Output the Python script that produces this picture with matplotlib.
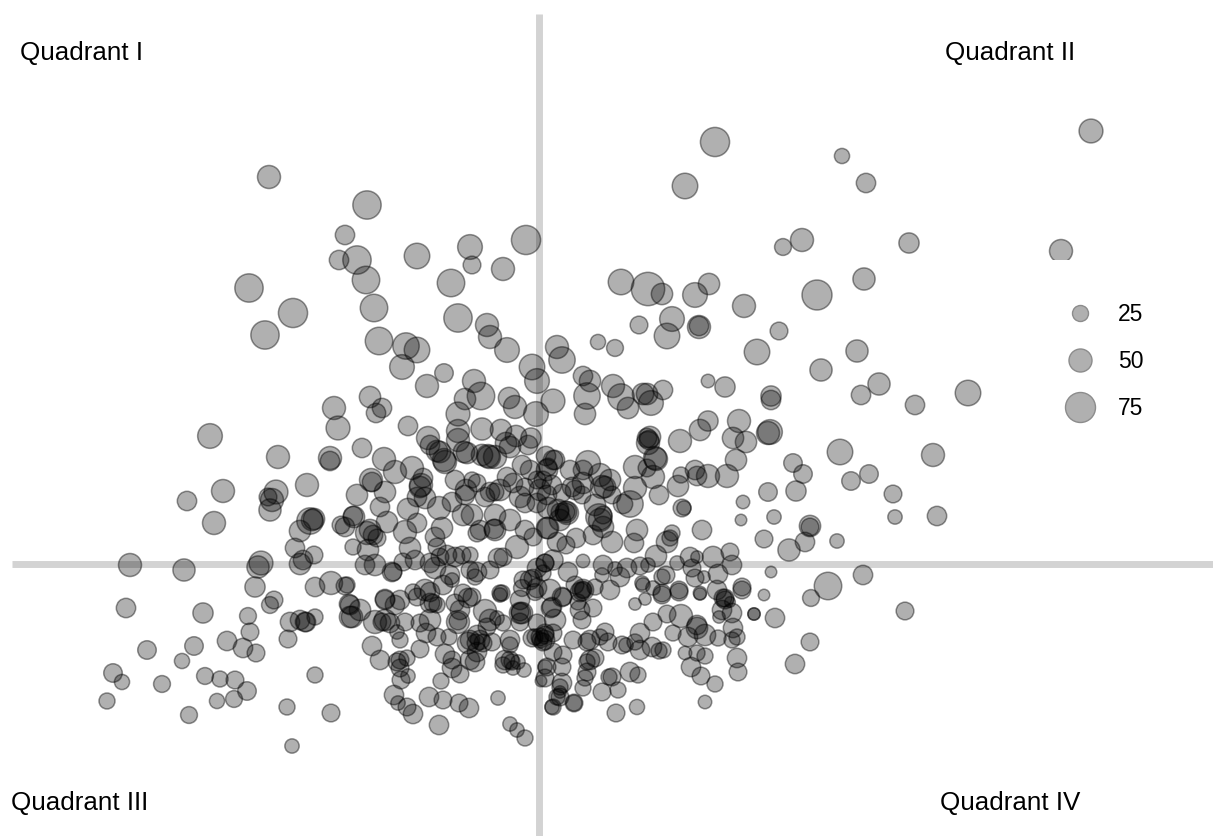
import numpy as np
import matplotlib
matplotlib.use("Agg")
import matplotlib.pyplot as plt
from matplotlib.lines import Line2D

plt.rcParams['font.family'] = ['Liberation Sans', 'DejaVu Sans']

x_upper_right = [715,1091,842,866,685,909,802,783,1061,864,817,709,695,662,648,621,744,779,672,699,699,667,639,615,598,757,857,821,879,861,968,915,708,725,771,771]
y_upper_right = [142,131,156,183,186,243,240,247,251,279,295,284,295,294,289,282,306,331,319,327,326,336,325,348,342,352,351,370,384,395,393,405,381,387,396,400,]
s_upper_right = [72,53,22,37,59,40,50,28,50,47,75,44,56,44,87,59,50,31,56,50,37,59,31,28,22,59,47,47,47,37,59,37,16,40,40,37]

x_right = [933,840,869,851,893,895,937,793,803,768,796,743,741,774,764,810,810,805,789,837,771,863,828,764,811,905,775,754,810,795,705,738,737,715]
y_right = [455,452,474,481,494,517,516,463,474,492,491,502,520,517,539,526,527,542,550,541,572,575,586,595,598,611,618,614,642,664,702,672,658,684]
s_right = [50,59,34,34,31,19,37,34,34,34,40,16,9,19,31,44,31,37,47,19,9,37,66,9,28,31,37,12,31,37,16,31,37,25]

x_upper_left = [269,367,345,339,357,366,249,293,265,374,417,451,470,472,503,526,458,487,490,507,379,406,417,402,444,427,370,334,382,376,338,408,458,474,481,465,509,515,532,537,557,562,553,536,583,590,587,613,585,621,628,643,651,663,647]
y_upper_left = [177,205,235,260,260,280,288,313,335,308,256,283,247,265,269,240,318,325,337,350,341,346,350,367,373,386,397,408,408,413,428,426,414,381,396,399,398,407,367,381,347,360,401,414,376,381,396,386,414,397,408,394,403,390,394]
s_upper_left = [50,69,37,37,69,66,69,72,69,66,59,66,56,31,50,72,69,50,50,56,66,62,59,56,34,50,44,50,37,37,53,37,53,50,66,44,44,50,59,56,50,62,53,56,37,44,62,50,44,62,44,44,56,37,44]

x_upper_mid = [428,437,458,458,482,501,506,516,489,464,444,531,546,650,649,656,680,700,708,739,733,746,768,770,736,678,681,695,697,708,727,635,655,647,653,635,659,630,623,648,647]
y_upper_mid = [438,451,431,440,429,430,443,436,457,452,460,438,456,437,440,459,441,430,421,421,438,442,433,432,460,486,475,470,476,476,476,467,458,468,477,488,495,504,504,443,438]
s_upper_mid = [50,44,50,50,47,44,44,44,50,44,50,40,37,44,37,50,50,44,40,50,44,44,50,56,44,44,25,37,37,50,50,50,50,31,50,50,37,62,37,50,37]

x_left = [210,278,187,223,214,276,272,270,307,330,330,130,184,126,203,147,113,122,107,162,182,194,189,205,220,235,217,234,247,227,243,250,256,248,270,274]
y_left = [436,457,501,491,523,492,500,510,485,458,461,565,570,608,613,650,673,682,701,684,661,646,715,676,679,680,701,699,691,641,648,632,653,616,605,600]
s_left = [56,50,37,50,50,53,50,47,50,50,37,50,47,37,40,34,34,22,25,28,22,34,28,28,25,31,22,28,34,37,37,31,31,28,28,31]

x_lower_left = [287,315,331,292,288,290,306,315,255,258,261,295,300,303,314,315,331,345,349,350,300,310,314,341,354]
y_lower_left = [707,675,713,746,639,622,622,617,587,567,563,548,564,560,555,587,583,586,604,617,531,521,519,525,517]
s_lower_left = [25,25,31,19,31,37,37,25,40,47,53,37,44,37,31,37,50,31,37,44,44,62,44,31,44]

x_c1 = [362,384,395,412,423,421,371,372,357,385,380,425,417,408,439,452,465,472,477,485,495,507,513,525,537,547,553,522,495,482,488,467,445,440,430,510,528]
y_c1 = [448,459,472,468,478,485,480,482,495,492,507,498,497,509,508,502,495,480,483,497,492,477,483,487,480,470,460,465,457,455,456,453,462,452,445,447,445]
s_c1 = [37,50,50,50,37,50,50,37,44,44,37,44,37,44,50,37,37,25,31,37,31,37,37,31,31,44,37,37,50,44,50,44,50,44,37,44,37]

x_c2 = [387,353,345,367,373,377,353,368,365,375,392,393,405,417,410,403,415,435,442,437,440,430,435,455,447,470,462,463,472,495,477,494,495,498,503,517,525]
y_c2 = [522,516,527,533,535,538,547,550,565,565,572,572,532,523,548,562,560,537,528,547,557,563,568,557,555,555,555,515,515,515,533,529,530,558,557,547,530]
s_c2 = [44,37,37,50,37,31,25,44,37,44,37,31,50,37,44,31,37,37,44,31,31,37,44,37,37,25,31,44,44,44,31,37,44,37,31,50,37]

x_c3 = [533,548,525,537,547,558,560,477,475,490,470,545,537,523,533,537,347,385,413,430,452,443,463,472,500,522]
y_c3 = [537,528,503,503,495,510,512,572,577,570,570,563,568,580,578,588,585,600,592,592,580,585,593,597,593,588]
s_c3 = [31,44,37,37,37,44,31,37,25,31,31,31,37,31,31,37,25,37,25,37,19,37,31,31,25,28]

x_c4 = [555,548,588,583,600,602,583,582,562,572,552,543,612,567,566,548,599,603,603,593,612,576,557,566,547,637,634,684,682,702,672,670,667]
y_c4 = [460,467,463,470,475,487,483,495,493,487,485,480,495,513,512,508,517,515,527,535,542,538,542,545,528,530,543,508,508,530,533,538,542]
s_c4 = [37,31,56,37,50,50,44,31,31,37,37,31,31,50,31,44,62,31,44,37,44,37,37,31,44,44,37,19,31,37,25,25,44]

x_c5 = [656,677,690,697,713,730,732,692,695,704,718,742,717,725,700,679,662,666,662,653,643,648,640,620,627,615,603,602,583,568,575,583,583,563,595,543,545,553,642]
y_c5 = [556,563,557,557,557,552,565,568,578,577,574,587,590,598,593,590,593,575,577,588,585,565,566,577,568,569,565,575,561,572,585,590,590,597,587,573,563,560,583]
s_c5 = [44,19,37,12,44,31,37,31,31,12,37,31,37,31,16,31,31,31,25,19,19,19,31,37,37,19,37,19,16,37,31,31,25,31,25,25,31,40,19]

x_b1 = [352,350,385,395,375,382,390,397,400,405,420,426,437,449,420,372,380,397,407,400,408,401,394,398,407,413,429,443,459,469,439,441,460,452,445,452,475,468,476,477,483,492,477]
y_b1 = [617,605,599,605,622,622,623,632,640,622,623,633,637,637,649,646,660,662,658,668,676,680,695,703,707,714,697,700,703,708,725,681,674,668,654,660,662,643,643,635,643,642,652]
s_b1 = [44,37,37,37,50,31,37,19,25,31,31,37,31,25,31,37,37,31,25,31,19,31,37,19,31,37,37,31,31,37,37,25,31,37,37,31,37,44,31,37,31,31,37]

x_b2 = [458,458,485,500,497,503,487,510,503,512,518,524,513,498,510,517,525,522,520,520,551,532,540,543,553,545,541,552,557,560,433,437,417,455,468,502,535,537,535]
y_b2 = [621,622,611,595,618,623,627,645,665,662,662,670,668,698,724,730,738,613,612,622,608,638,637,642,633,667,681,707,697,687,603,605,597,603,598,593,592,623,637]
s_b2 = [31,50,50,19,19,25,31,25,25,25,19,19,19,19,19,19,25,44,31,31,37,31,31,31,31,19,9,19,25,25,31,25,31,31,37,25,28,31,25]

x_b3 = [552,562,580,578,593,582,605,573,587,600,608,622,626,635,640,635,645,662,679,700,723,730,719,722,742,754,653,667,681,673,688,697,705,718,732,733,737,732]
y_b3 = [607,597,592,602,608,620,632,640,642,637,642,645,645,642,633,604,599,595,592,594,598,602,617,610,590,614,622,614,616,633,637,625,635,638,613,628,637,640]
s_b3 = [37,37,37,25,31,31,31,31,31,25,31,31,19,25,37,12,12,31,31,12,31,6,12,37,31,12,31,31,50,25,37,37,44,25,37,37,25,25]

x_b4 = [652,659,663,685,697,705,691,701,553,563,562,547,545,562,560,560,553,574,574,583,585,587,587,595,602,618,609,612,630,638,616,637,545,540]
y_b4 = [647,651,650,653,653,656,667,676,652,655,667,667,678,683,692,697,707,703,703,688,678,662,672,658,692,690,677,677,672,675,713,707,633,640]
s_b4 = [37,25,25,16,25,25,37,31,31,31,31,31,31,37,12,31,25,31,25,25,25,25,31,31,31,25,25,31,37,25,31,22,31,25]

x_dense = [566,420,583,520,430,300,470,545,590,505,697,605,520,490,600,385,305,312,268,725,530,545,480,400,510,466,500,540,575,610,455,570,530,560,595,480,510,450,425,400,370,360,580,550,520,490,460,430,610,640,470,510,590,555]
y_dense = [512,487,590,613,603,620,640,640,640,660,628,487,497,492,520,620,622,520,497,600,580,635,640,660,660,490,490,490,490,480,480,470,470,520,505,530,520,575,590,600,530,610,610,590,600,620,610,620,590,650,660,640,660,620]
s_dense = [44,44,44,44,37,37,37,37,37,37,44,44,44,37,50,44,37,44,31,31,37,31,37,31,31,44,44,44,37,44,37,37,37,44,44,37,44,37,44,37,44,44,37,44,37,44,37,44,37,37,37,37,37,44]

xs = [x_upper_right, x_right, x_upper_left, x_upper_mid, x_left, x_lower_left, x_c1, x_c2, x_c3, x_c4, x_c5, x_b1, x_b2, x_b3, x_b4, x_dense]
ys = [y_upper_right, y_right, y_upper_left, y_upper_mid, y_left, y_lower_left, y_c1, y_c2, y_c3, y_c4, y_c5, y_b1, y_b2, y_b3, y_b4, y_dense]
ss = [s_upper_right, s_right, s_upper_left, s_upper_mid, s_left, s_lower_left, s_c1, s_c2, s_c3, s_c4, s_c5, s_b1, s_b2, s_b3, s_b4, s_dense]
for a, b, c in zip(xs, ys, ss, strict=True):
    assert len(a) == len(b) == len(c), (len(a), len(b), len(c), a[:2])

x = np.concatenate(xs)
y = np.concatenate(ys)
size = np.concatenate(ss)

x_origin = 539
y_origin = 564
legend_sizes = [25, 50, 75]
quadrant_labels = ["Quadrant I", "Quadrant II", "Quadrant III", "Quadrant IV"]

def diam_pt(v):
    return (10 + 0.28 * np.asarray(v, dtype=float) - 1.0) * 0.72

fig = plt.figure(figsize=(12.13, 8.36), dpi=100)
ax = fig.add_axes([0, 0, 1, 1])
ax.set_xlim(0, 1213)
ax.set_ylim(836, 0)
ax.axis("off")

ax.plot([x_origin, x_origin], [14, 836], color="#d3d3d3", lw=5, solid_capstyle="butt", zorder=1)
ax.plot([12, 1213], [y_origin, y_origin], color="#d3d3d3", lw=5, solid_capstyle="butt", zorder=1)

ax.scatter(x, y, s=diam_pt(size) ** 2, facecolor=(0, 0, 0, 0.31), edgecolor=(0, 0, 0, 0.42), linewidth=1.1, zorder=2)

handles = [Line2D([], [], ls="none", marker="o", ms=diam_pt(v), mfc="#b0b0b0", mec="#8c8c8c", mew=1.0) for v in legend_sizes]
leg = ax.legend(handles, [str(v) for v in legend_sizes], loc="upper left", bbox_to_anchor=(1014, 260),
                bbox_transform=ax.transData, frameon=True, facecolor="white", edgecolor="none", fancybox=False,
                framealpha=1, fontsize=16.5, labelspacing=1.05, handletextpad=0.66, handlelength=2.0, borderpad=1.88, borderaxespad=0)
leg.set_zorder(3)

tkw = dict(fontsize=18.7, color="black", va="center", zorder=4)
ax.text(20, 53, quadrant_labels[0], ha="left", **tkw)
ax.text(945, 53, quadrant_labels[1], ha="left", **tkw)
ax.text(11, 803, quadrant_labels[2], ha="left", **tkw)
ax.text(940, 803, quadrant_labels[3], ha="left", **tkw)

fig.savefig("out.png", dpi=100)
